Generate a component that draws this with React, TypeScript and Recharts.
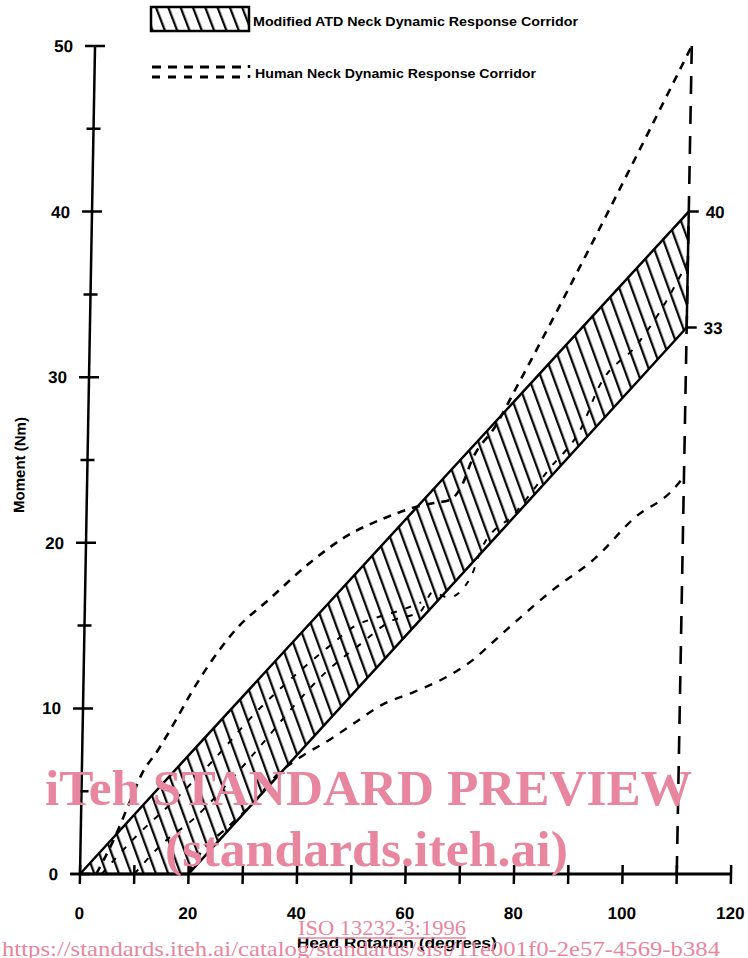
import React from 'react'
import { ComposedChart, Area, Line, Scatter, XAxis, YAxis, Label } from 'recharts'

// axis ticks
const xTicks = [0, 10, 20, 30, 40, 50, 60, 70, 80, 90, 100, 110, 120]
const yTicks = [0, 5, 10, 15, 20, 25, 30, 35, 40, 45, 50]

// modified ATD corridor (hatched band)
const bandX = [0, 20, 110]
const bandLow = [0, 0, 33]
const bandHigh = [0, 7.3, 40]

// human corridor, outer upper bound
const upperX = [3, 6, 9, 11, 14, 17, 20, 23, 28, 34, 41, 48, 55, 60, 64, 67, 69, 71, 75, 79, 110]
const upperY = [0, 2.0, 4.4, 6.0, 7.5, 9.2, 11.0, 12.6, 14.8, 16.6, 18.7, 20.4, 21.5, 22.1, 22.4, 22.6, 23.4, 25.1, 27.0, 29.5, 50]

// human corridor, outer lower bound
const lowerX = [20, 22, 27, 32, 36, 40, 46, 50, 55, 61, 68, 72, 75, 79, 86, 94, 101, 108, 110]
const lowerY = [0, 1.2, 2.8, 4.4, 6.0, 7.0, 8.2, 9.1, 10.2, 11.0, 12.1, 13.0, 13.9, 15.1, 17.1, 19.1, 21.5, 23.2, 24]

// human corridor, inner curves (inside the band)
const innerUpX = [4, 10, 17, 24, 32, 40, 45, 50, 54, 58, 62]
const innerUpY = [0, 2.2, 4.4, 6.8, 9.8, 12.3, 13.7, 15.0, 15.5, 15.9, 16.4]
const innerLowX = [10, 15, 21, 27, 33, 39, 45, 51, 56, 62, 64, 67, 71, 73, 79, 85, 91, 94, 101, 106, 110]
const innerLowY = [0, 1.8, 3.4, 5.5, 7.8, 10.2, 12.3, 13.9, 15.2, 15.9, 17.0, 16.7, 17.9, 19.7, 21.8, 24.4, 27.0, 29.4, 32.0, 34.5, 37.0]

// vertical closing line of the human corridor
const closeX = [110, 110]
const closeY = [50, 0]

// end values marked on the right
const endX = [110, 110]
const endY = [40, 33]

const zip = (xs: number[], ys: number[]) => xs.map((x, i) => ({ x, y: ys[i] }))

const bandData = bandX.map((x, i) => ({ x, range: [bandLow[i], bandHigh[i]] }))
const bandEdge = zip([bandX[2], bandX[2]], [bandLow[2], bandHigh[2]])

const font = '"Liberation Sans", Arial, sans-serif'
const pink = '#e8869f'

function XTick(props: any) {
  const { x, y, payload } = props
  const v = payload.value
  return (
    <g>
      <line x1={x} x2={x} y1={y - 9} y2={y + 10} stroke="#000" strokeWidth={2.5} />
      {v === 0 && <line x1={x - 10} x2={x} y1={y} y2={y} stroke="#000" strokeWidth={2.5} />}
      {v % 20 === 0 && (
        <text x={x} y={y + 45} textAnchor="middle" fontFamily={font} fontWeight="bold" fontSize={17} fill="#000">
          {v}
        </text>
      )}
    </g>
  )
}

function YTick(props: any) {
  const { x, y, payload } = props
  const v = payload.value
  const major = v % 10 === 0
  return (
    <g>
      <line x1={x - (major ? 10 : 7)} x2={x + (major ? 10 : 7)} y1={y} y2={y} stroke="#000" strokeWidth={2.5} />
      {major && (
        <text x={x - 22} y={y + 6} textAnchor="end" fontFamily={font} fontWeight="bold" fontSize={17} fill="#000">
          {v}
        </text>
      )}
    </g>
  )
}

function EndMark(props: any) {
  const { cx, cy, payload } = props
  return (
    <g>
      <line x1={cx} x2={cx + 10} y1={cy} y2={cy} stroke="#000" strokeWidth={2.5} />
      <text x={cx + 17} y={cy + 6} fontFamily={font} fontWeight="bold" fontSize={17} fill="#000">
        {payload.y}
      </text>
    </g>
  )
}

export default function App() {
  return (
    <div style={{ position: 'absolute', left: 0, top: 0, width: 748, height: 958, background: '#fff', overflow: 'hidden' }}>
      {/* the scanned figure leans slightly to the right */}
      <div style={{ position: 'absolute', left: 0, top: 0, transform: 'skewX(-1.04deg)', transformOrigin: '0px 874px' }}>
        <ComposedChart width={748} height={958} margin={{ top: 46, right: 17, bottom: 0, left: 0 }}>
          <defs>
            <pattern id="hatch" patternUnits="userSpaceOnUse" width={11.5} height={11.5} patternTransform="rotate(-21)">
              <line x1={5} y1={-1} x2={5} y2={12.5} stroke="#000" strokeWidth={2.2} />
            </pattern>
          </defs>
          <XAxis
            type="number"
            dataKey="x"
            domain={[0, 120]}
            ticks={xTicks}
            interval={0}
            height={84}
            tickSize={0}
            tickMargin={0}
            tickLine={false}
            axisLine={{ stroke: '#000', strokeWidth: 3 }}
            tick={(p: any) => <XTick {...p} />}
          >
            <Label
              content={(p: any) => (
                <text x={p.viewBox.x + 218} y={p.viewBox.y + 74} fontFamily={font} fontWeight="bold" fontSize={15} fill="#000" textLength={200} lengthAdjust="spacingAndGlyphs">
                  Head Rotation (degrees)
                </text>
              )}
            />
          </XAxis>
          <YAxis
            type="number"
            domain={[0, 50]}
            ticks={yTicks}
            interval={0}
            width={80}
            tickSize={0}
            tickMargin={0}
            tickLine={false}
            axisLine={{ stroke: '#000', strokeWidth: 2.5 }}
            tick={(p: any) => <YTick {...p} />}
          >
            <Label
              content={() => (
                <text x={12} y={465} transform="rotate(-90 12 465)" textAnchor="middle" dominantBaseline="central" fontFamily={font} fontWeight="bold" fontSize={15} fill="#000">
                  Moment (Nm)
                </text>
              )}
            />
          </YAxis>

          <Area
            data={bandData}
            dataKey="range"
            type="linear"
            stroke="#000"
            strokeWidth={2.5}
            fill="url(#hatch)"
            fillOpacity={1}
            dot={false}
            activeDot={false}
            isAnimationActive={false}
          />
          <Line data={bandEdge} dataKey="y" type="linear" stroke="#000" strokeWidth={2.5} dot={false} activeDot={false} isAnimationActive={false} />

          <Line data={zip(upperX, upperY)} dataKey="y" type="monotone" stroke="#000" strokeWidth={2.6} strokeDasharray="8 7" dot={false} activeDot={false} isAnimationActive={false} />
          <Line data={zip(lowerX, lowerY)} dataKey="y" type="monotone" stroke="#000" strokeWidth={2.4} strokeDasharray="8 8" dot={false} activeDot={false} isAnimationActive={false} />
          <Line data={zip(innerUpX, innerUpY)} dataKey="y" type="monotone" stroke="#000" strokeWidth={2} strokeDasharray="6 9" dot={false} activeDot={false} isAnimationActive={false} />
          <Line data={zip(innerLowX, innerLowY)} dataKey="y" type="monotone" stroke="#000" strokeWidth={2} strokeDasharray="6 9" dot={false} activeDot={false} isAnimationActive={false} />
          <Line data={zip(closeX, closeY)} dataKey="y" type="linear" stroke="#000" strokeWidth={2.6} strokeDasharray="18 12" dot={false} activeDot={false} isAnimationActive={false} />

          <Scatter data={zip(endX, endY)} dataKey="y" shape={(p: any) => <EndMark {...p} />} isAnimationActive={false} />
        </ComposedChart>
      </div>

      {/* legend */}
      <svg width={748} height={100} style={{ position: 'absolute', left: 0, top: 0 }}>
        <defs>
          <pattern id="hatchLegend" patternUnits="userSpaceOnUse" width={11.5} height={11.5} patternTransform="rotate(-21)">
            <line x1={5} y1={-1} x2={5} y2={12.5} stroke="#000" strokeWidth={2.2} />
          </pattern>
        </defs>
        <rect x={151} y={7} width={98} height={24} fill="url(#hatchLegend)" stroke="#000" strokeWidth={2.5} />
        <text x={253} y={26} fontFamily={font} fontWeight="bold" fontSize={13} fill="#000" textLength={325} lengthAdjust="spacingAndGlyphs">
          Modified ATD Neck Dynamic Response Corridor
        </text>
        <line x1={152} x2={244} y1={67} y2={67} stroke="#000" strokeWidth={3} strokeDasharray="9 7" />
        <line x1={152} x2={244} y1={77} y2={77} stroke="#000" strokeWidth={3} strokeDasharray="8 8" />
        <line x1={249} x2={249} y1={65} y2={79} stroke="#000" strokeWidth={2.5} strokeDasharray="3 7" />
        <text x={255} y={78} fontFamily={font} fontWeight="bold" fontSize={13} fill="#000" textLength={281} lengthAdjust="spacingAndGlyphs">
          Human Neck Dynamic Response Corridor
        </text>
      </svg>

      {/* page watermark */}
      <svg width={748} height={958} style={{ position: 'absolute', left: 0, top: 0, pointerEvents: 'none' }}>
        <g fontFamily='"Liberation Serif", "Times New Roman", serif' fill={pink}>
          <text x={45} y={805} fontWeight="bold" fontSize={50} textLength={647} lengthAdjust="spacingAndGlyphs">
            iTeh STANDARD PREVIEW
          </text>
          <text x={165} y={866} fontWeight="bold" fontSize={51} textLength={403} lengthAdjust="spacingAndGlyphs">
            (standards.iteh.ai)
          </text>
          <text x={298} y={935} fontSize={22} textLength={168} lengthAdjust="spacingAndGlyphs">
            ISO 13232-3:1996
          </text>
          <line x1={298} x2={466} y1={938} y2={938} stroke={pink} strokeWidth={1.5} />
          <text x={2} y={956} fontSize={22} textLength={718} lengthAdjust="spacingAndGlyphs">
            https://standards.iteh.ai/catalog/standards/sist/11e001f0-2e57-4569-b384
          </text>
        </g>
      </svg>
    </div>
  )
}
